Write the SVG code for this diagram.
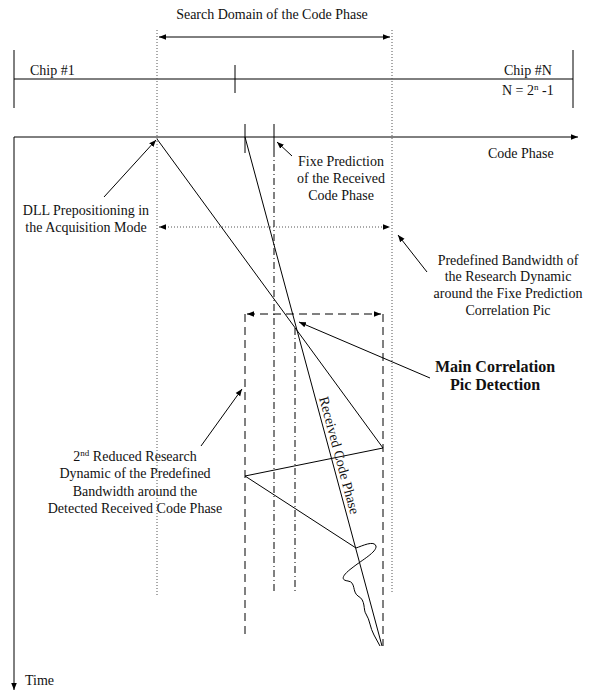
<svg xmlns="http://www.w3.org/2000/svg" width="595" height="692" viewBox="0 0 595 692">
<defs>
<marker id="ah" viewBox="0 0 10 10" refX="10" refY="5" markerWidth="7" markerHeight="7" markerUnits="userSpaceOnUse" orient="auto-start-reverse">
<path d="M0,1 L10,5 L0,9 z" fill="#000"/>
</marker>
<style>
text{font-family:"Liberation Serif","Times New Roman",serif;font-size:14px;fill:#111}
.c{text-anchor:middle}
.b{font-weight:bold;font-size:16px}
.s{stroke:#000;stroke-width:1;fill:none}
.dot{stroke:#555;stroke-width:1;stroke-dasharray:1,2;fill:none}
.dash{stroke:#000;stroke-width:1;stroke-dasharray:8,5;fill:none}
.dd{stroke:#000;stroke-width:1;stroke-dasharray:7,3,1,3;fill:none}
</style>
</defs>
<rect width="595" height="692" fill="#fff"/>

<g id="search-domain">
<text class="c" x="272" y="19">Search Domain of the Code Phase</text>
</g>

<g id="chip-bar">
<line class="s" x1="14" y1="50" x2="14" y2="108"/>
<line class="s" x1="14" y1="79" x2="573" y2="79"/>
<line class="s" x1="573" y1="50" x2="573" y2="108"/>
<line class="s" x1="235" y1="65" x2="235" y2="93"/>
<text x="30" y="75">Chip #1</text>
<text x="504" y="75">Chip #N</text>
<text x="502" y="95">N = 2<tspan font-size="9" dy="-5">n</tspan><tspan dy="5"> -1</tspan></text>
</g>

<g id="axes">
<line class="s" x1="14" y1="137" x2="578" y2="137" marker-end="url(#ah)"/>
<line class="s" x1="14" y1="137" x2="14" y2="690" marker-end="url(#ah)"/>
<text x="488" y="158">Code Phase</text>
<text x="25" y="685">Time</text>
<line class="s" x1="245" y1="124" x2="245" y2="153"/>
<line class="s" x1="274" y1="124" x2="274" y2="150"/>
</g>

<g id="fixe-prediction">
<text class="c" x="341" y="166">Fixe Prediction</text>
<text class="c" x="341" y="183">of the Received</text>
<text class="c" x="341" y="200">Code Phase</text>
</g>

<g id="dll">
<text class="c" x="86" y="215">DLL Prepositioning in</text>
<text class="c" x="86" y="232">the Acquisition Mode</text>
</g>

<g id="predefined-bandwidth">
<text class="c" x="508" y="265">Predefined Bandwidth of</text>
<text class="c" x="508" y="281">the Research Dynamic</text>
<text class="c" x="508" y="298">around the Fixe Prediction</text>
<text class="c" x="508" y="315">Correlation Pic</text>
</g>

<g id="main-correlation">
<text class="c b" x="495" y="372">Main Correlation</text>
<text class="c b" x="495" y="390">Pic Detection</text>
</g>

<g id="reduced-research">
<text class="c" x="135" y="461">2<tspan font-size="9" dy="-5">nd</tspan><tspan dy="5"> Reduced Research</tspan></text>
<text class="c" x="135" y="478">Dynamic of the Predefined</text>
<text class="c" x="135" y="496">Bandwidth around the</text>
<text class="c" x="135" y="513">Detected Received Code Phase</text>
</g>

<g id="received-code-phase">
<line class="s" x1="245" y1="137" x2="382" y2="646"/>
<text transform="translate(319,398) rotate(74.9)">Received Code Phase</text>
<path class="s" d="M356,548 C362,546 374,540 376,546 C377,552 362,560 352,568 C344,574 339,580 348,581 C356,582 352,592 358,596 C366,600 363,610 366,614 C370,620 370,628 374,635 L380,646"/>
</g>

<g id="connectors">
<line class="dot" x1="157" y1="30" x2="157" y2="596"/>
<line class="dot" x1="392" y1="30" x2="392" y2="592"/>
<line class="s" x1="159" y1="37" x2="390" y2="37" marker-start="url(#ah)" marker-end="url(#ah)"/>
<line class="dot" x1="159" y1="227" x2="390" y2="227" marker-start="url(#ah)" marker-end="url(#ah)"/>
<line class="dd" x1="274" y1="150" x2="274" y2="593"/>
<line class="dd" x1="295" y1="328" x2="295" y2="594"/>
<line class="dash" x1="245" y1="314" x2="245" y2="637"/>
<line class="dash" x1="383" y1="314" x2="383" y2="646"/>
<line class="dash" x1="247" y1="314" x2="381" y2="314" marker-start="url(#ah)" marker-end="url(#ah)"/>
<polyline class="s" points="157,139 383,448 245,476 356,548"/>
<line class="s" x1="104" y1="197" x2="156" y2="140" marker-end="url(#ah)"/>
<line class="s" x1="292" y1="156" x2="277" y2="142" marker-end="url(#ah)"/>
<line class="s" x1="427" y1="272" x2="398" y2="235" marker-end="url(#ah)"/>
<line class="s" x1="430" y1="378" x2="299" y2="322" marker-end="url(#ah)"/>
<line class="s" x1="201" y1="446" x2="242" y2="389" marker-end="url(#ah)"/>
</g>
</svg>
